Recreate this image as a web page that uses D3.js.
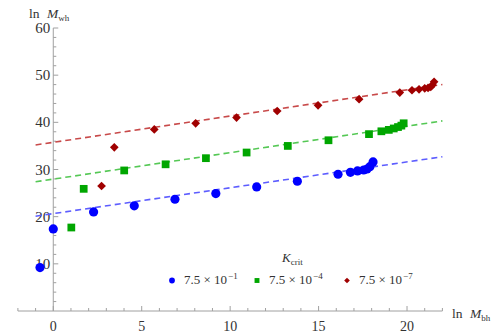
<!DOCTYPE html>
<html>
<head>
<meta charset="utf-8">
<script src="https://cdn.jsdelivr.net/npm/d3@7"></script>
<style>
  html, body { margin: 0; padding: 0; background: #fff; }
</style>
</head>
<body>
<div id="chart-container"></div>
<script>
// data
const blueX  = [-0.75, 0.0, 2.28, 4.58, 6.88, 9.19, 11.5, 13.8, 16.1, 16.8, 17.2, 17.55, 17.74, 17.9, 18.08];
const blueY  = [9.2, 17.4, 21.0, 22.3, 23.7, 24.9, 26.3, 27.5, 29.0, 29.4, 29.7, 29.9, 30.1, 30.6, 31.6];
const greenX = [1.02, 1.72, 4.01, 6.35, 8.63, 10.93, 13.26, 15.56, 17.85, 18.55, 18.97, 19.25, 19.49, 19.68, 19.81];
const greenY = [17.7, 25.9, 29.8, 31.1, 32.4, 33.6, 35.0, 36.2, 37.5, 38.1, 38.4, 38.7, 39.0, 39.3, 39.8];
const redX   = [2.73, 3.45, 5.71, 8.05, 10.36, 12.66, 14.97, 17.29, 19.59, 20.28, 20.68, 21.0, 21.19, 21.34, 21.43, 21.53];
const redY   = [26.5, 34.7, 38.5, 39.8, 41.0, 42.4, 43.6, 44.9, 46.3, 46.8, 47.0, 47.2, 47.3, 47.5, 47.9, 48.6];

// fitted lines: [intercept, slope]
const fitIntercepts = [20.65, 27.96, 35.76];
const fitSlopes = [0.548, 0.561, 0.557];
const fitRange = [-1, 22];

const legendMantissa = ["7.5", "7.5", "7.5"];
const legendExponents = ["\u22121", "\u22124", "\u22127"];

const xTicks = [0, 5, 10, 15, 20];
const yTicks = [10, 20, 30, 40, 50, 60];

function init() {
  const width = 498;
  const height = 334;

  const x = d3.scaleLinear().domain([-2, 22]).range([17.9, 442.4]);
  const y = d3.scaleLinear().domain([0, 60]).range([311, 28]);

  const series = [
    { xs: blueX, ys: blueY, color: "#0000ff", line: "#5d5dff", shape: "circle" },
    { xs: greenX, ys: greenY, color: "#00a600", line: "#55c855", shape: "square" },
    { xs: redX, ys: redY, color: "#a00000", line: "#c84a4a", shape: "diamond" }
  ];

  const svg = d3.create("svg")
      .attr("width", width)
      .attr("height", height)
      .attr("viewBox", [0, 0, width, height])
      .attr("font-family", "'Liberation Serif', 'Times New Roman', 'DejaVu Serif', serif")
      .style("display", "block");

  const axisColor = "#a0a0a0";
  const textColor = "#333";

  // x axis with inward ticks
  const xAxis = svg.append("g").attr("transform", `translate(0,${y(0)})`);
  xAxis.append("line")
      .attr("x1", x(-2)).attr("x2", x(22))
      .attr("stroke", axisColor);
  xAxis.selectAll("line.minor")
    .data(d3.range(-2, 23).filter(v => v % 5 !== 0))
    .join("line")
      .attr("class", "minor")
      .attr("x1", d => x(d)).attr("x2", d => x(d))
      .attr("y1", 0).attr("y2", -3)
      .attr("stroke", axisColor);
  xAxis.selectAll("line.major")
    .data(xTicks)
    .join("line")
      .attr("class", "major")
      .attr("x1", d => x(d)).attr("x2", d => x(d))
      .attr("y1", 0).attr("y2", -5)
      .attr("stroke", axisColor);
  xAxis.selectAll("text")
    .data(xTicks)
    .join("text")
      .attr("x", d => x(d))
      .attr("y", 19.5)
      .attr("text-anchor", "middle")
      .attr("font-size", 14)
      .attr("fill", textColor)
      .text(d => d);

  // y axis
  const yAxis = svg.append("g").attr("transform", `translate(${x(0)},0)`);
  yAxis.append("line")
      .attr("y1", y(0)).attr("y2", y(60))
      .attr("stroke", axisColor);
  yAxis.selectAll("line.minor")
    .data(d3.range(2, 60, 2).filter(v => v % 10 !== 0))
    .join("line")
      .attr("class", "minor")
      .attr("y1", d => y(d)).attr("y2", d => y(d))
      .attr("x1", 0).attr("x2", 3)
      .attr("stroke", axisColor);
  yAxis.selectAll("line.major")
    .data(yTicks)
    .join("line")
      .attr("class", "major")
      .attr("y1", d => y(d)).attr("y2", d => y(d))
      .attr("x1", 0).attr("x2", 5)
      .attr("stroke", axisColor);
  yAxis.selectAll("text")
    .data(yTicks)
    .join("text")
      .attr("x", -3)
      .attr("y", d => y(d) + 5)
      .attr("text-anchor", "end")
      .attr("font-size", 15)
      .attr("fill", textColor)
      .text(d => d);

  // axis labels
  const yLabel = svg.append("text")
      .attr("x", 29).attr("y", 18)
      .attr("font-size", 13.5)
      .attr("fill", textColor);
  yLabel.append("tspan").text("ln ");
  yLabel.append("tspan").attr("dx", 4).attr("font-style", "italic").text("M");
  yLabel.append("tspan").attr("dy", 3).attr("font-size", 9).text("wh");

  const xLabel = svg.append("text")
      .attr("x", 452).attr("y", 318)
      .attr("font-size", 13.5)
      .attr("fill", textColor);
  xLabel.append("tspan").text("ln ");
  xLabel.append("tspan").attr("dx", 4).attr("font-style", "italic").text("M");
  xLabel.append("tspan").attr("dy", 3).attr("font-size", 9).text("bh");

  // fit lines
  const line = d3.line().x(d => x(d[0])).y(d => y(d[1]));
  series.forEach((s, i) => {
    const pts = fitRange.map(v => [v, fitIntercepts[i] + fitSlopes[i] * v]);
    svg.append("path")
        .attr("d", line(pts))
        .attr("fill", "none")
        .attr("stroke", s.line)
        .attr("stroke-width", 1.6)
        .attr("stroke-dasharray", "6,4");
  });

  // markers (diamond = square turned 45 degrees)
  const symbolFor = {
    circle: [d3.symbol(d3.symbolCircle, 66), 0],
    square: [d3.symbol(d3.symbolSquare, 60), 0],
    diamond: [d3.symbol(d3.symbolSquare, 38), 45]
  };
  series.forEach(s => {
    const [sym, rot] = symbolFor[s.shape];
    svg.append("g")
      .selectAll("path")
      .data(d3.zip(s.xs, s.ys))
      .join("path")
        .attr("transform", d => `translate(${x(d[0])},${y(d[1])}) rotate(${rot})`)
        .attr("d", sym)
        .attr("fill", s.color);
  });

  // legend
  const legend = svg.append("g");
  const title = legend.append("text")
      .attr("x", 282).attr("y", 262)
      .attr("font-size", 13)
      .attr("fill", textColor);
  title.append("tspan").attr("font-style", "italic").text("K");
  title.append("tspan").attr("dy", 3).attr("font-size", 9).text("crit");

  const legendSymbol = {
    circle: [d3.symbol(d3.symbolCircle, 26), 0],
    square: [d3.symbol(d3.symbolSquare, 24), 0],
    diamond: [d3.symbol(d3.symbolSquare, 16), 45]
  };
  const legendX = [172, 257, 347];
  series.forEach((s, i) => {
    const [sym, rot] = legendSymbol[s.shape];
    legend.append("path")
        .attr("transform", `translate(${legendX[i]},280.5) rotate(${rot})`)
        .attr("d", sym)
        .attr("fill", s.color);
    const t = legend.append("text")
        .attr("x", legendX[i] + 12).attr("y", 284)
        .attr("font-size", 13)
        .attr("fill", textColor);
    t.append("tspan").text(`${legendMantissa[i]} \u00d7 10`);
    t.append("tspan").attr("dy", -5).attr("dx", 1).attr("font-size", 9).text(legendExponents[i]);
  });

  document.getElementById("chart-container").innerHTML = "";
  d3.select("#chart-container").node().appendChild(svg.node());
}

document.addEventListener("DOMContentLoaded", () => { init(); }, false);
</script>
</body>
</html>
